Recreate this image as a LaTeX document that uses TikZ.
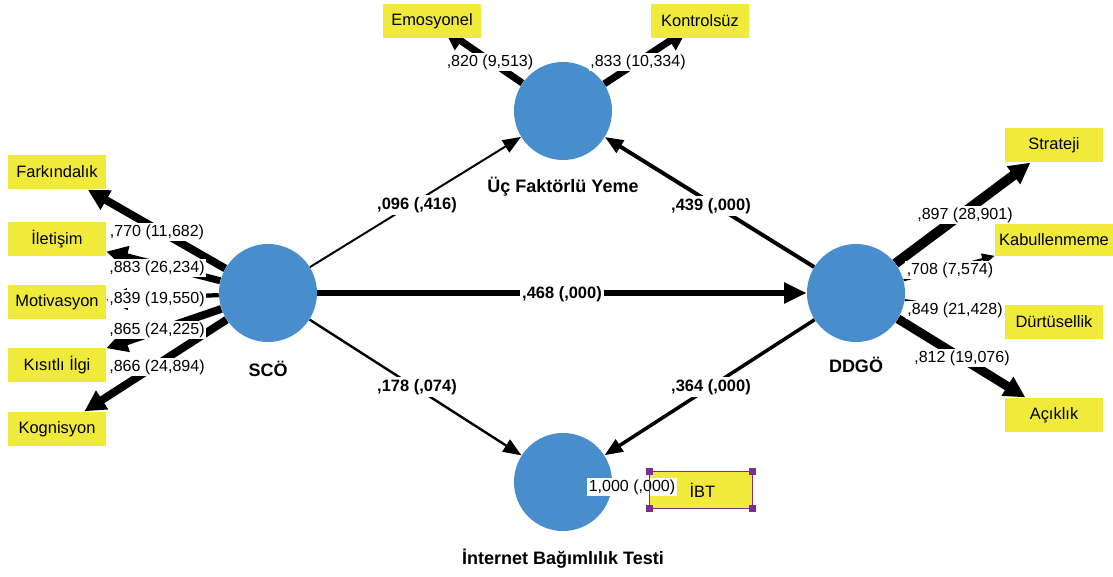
\documentclass[tikz,border=0pt]{standalone}
\usepackage{fontspec}
\setmainfont{Liberation Sans}
\usetikzlibrary{arrows.meta}
\definecolor{latblue}{RGB}{72,142,204}
\definecolor{indy}{RGB}{240,234,58}
\definecolor{handle}{RGB}{125,45,140}
\pgfdeclarelayer{bg}
\pgfsetlayers{bg,main}
\begin{document}
\begin{tikzpicture}[x=0.025cm,y=-0.025cm,
  lat/.style={circle,fill=latblue,minimum size=2.45cm,inner sep=0pt},
  indbox/.style={fill=indy,minimum width=2.45cm,minimum height=0.87cm,inner sep=1pt,font=\fontsize{11.7}{14}\selectfont},
  latlab/.style={font=\bfseries\fontsize{12.8}{15}\selectfont},
  loadlab/.style={fill=white,inner sep=1.2pt,font=\fontsize{11.4}{13}\selectfont},
  coeflab/.style={fill=white,inner sep=1.5pt,font=\bfseries\fontsize{11.7}{14}\selectfont},
  thickarr/.style={line width=#1,-{Triangle[length=15pt,width=15pt]}},
  thinarr/.style={line width=#1,-{Triangle[length=9pt,width=8pt]}},
  patharr/.style={line width=#1,-{Triangle[length=13pt,width=10pt]}},
  handlesq/.style={fill=handle,minimum size=0.18cm,inner sep=0pt}
]
\useasboundingbox (0,0) rectangle (1113,577);

% latent variables
\node[lat] (sco) at (268,293) {};
\node[lat] (ufy) at (563,111) {};
\node[lat] (ddgo) at (856,293) {};
\node[lat] (ibt) at (563,482) {};
\node[latlab] (scol) at (268,369) {SCÖ};
\node[latlab] (ufyl) at (563,187) {Üç Faktörlü Yeme};
\node[latlab] (ddgol) at (856,365) {DDGÖ};
\node[latlab] (ibtl) at (563,559) {İnternet Bağımlılık Testi};

% indicators
\node[indbox] (fark) at (57,172) {Farkındalık};
\node[indbox] (ilet) at (57,239) {İletişim};
\node[indbox] (moti) at (57,302) {Motivasyon};
\node[indbox] (kisi) at (57,365) {Kısıtlı İlgi};
\node[indbox] (kogn) at (57,429) {Kognisyon};
\node[indbox] (emo) at (432,21) {Emosyonel};
\node[indbox] (kont) at (700,21) {Kontrolsüz};
\node[indbox] (strat) at (1054,145) {Strateji};
\node[indbox,minimum width=2.95cm,minimum height=0.8cm] (kabul) at (1054,240) {Kabullenmeme};
\node[indbox] (durt) at (1054,322) {Dürtüsellik};
\node[indbox] (acik) at (1054,415) {Açıklık};
\node[indbox,minimum width=2.55cm,minimum height=0.9cm] (ibtb) at (701,490) {\hspace{2pt}İBT};

% connectors
\begin{pgfonlayer}{bg}
\draw[thickarr=5.6pt] (sco) -- (fark);
\draw[thickarr=5pt] (sco) -- (ilet);
\draw[thickarr=3pt] (sco) -- (moti);
\draw[thickarr=5.6pt] (sco) -- (kisi);
\draw[thickarr=5.6pt] (sco) -- (kogn);
\draw[thickarr=5pt,shorten >=-12pt] (ufy) -- (emo);
\draw[thickarr=5pt,shorten >=-12pt] (ufy) -- (kont);
\draw[thickarr=7pt] (ddgo) -- (strat);
\draw[thinarr=1.5pt] (ddgo) -- (kabul);
\draw[thinarr=1.5pt] (ddgo) -- (durt);
\draw[thickarr=6.5pt] (ddgo) -- (acik);
\draw[patharr=1.4pt] (sco) -- (ufy);
\draw[patharr=2.8pt] (ddgo) -- (ufy);
\draw[patharr=4.2pt,-{Triangle[length=16pt,width=14pt]}] (sco) -- (ddgo);
\draw[patharr=1.7pt] (sco) -- (ibt);
\draw[patharr=2.5pt] (ddgo) -- (ibt);
\end{pgfonlayer}

% outer loadings
\node[loadlab] (l1) at (157,232) {,770 (11,682)};
\node[loadlab] (l2) at (157,268) {,883 (26,234)};
\node[loadlab] (l3) at (157,299) {,839 (19,550)};
\node[loadlab] (l4) at (157,330) {,865 (24,225)};
\node[loadlab] (l5) at (157,367) {,866 (24,894)};
\node[loadlab] (l6) at (490,62) {,820 (9,513)};
\node[loadlab] (l7) at (638,62) {,833 (10,334)};
\node[loadlab] (l8) at (965,215) {,897 (28,901)};
\node[loadlab] (l9) at (950,270) {,708 (7,574)};
\node[loadlab] (l10) at (955,310) {,849 (21,428)};
\node[loadlab] (l11) at (962,358) {,812 (19,076)};
\node[loadlab] (l12) at (632,487) {1,000 (,000)};

% path coefficients
\node[coeflab] (c1) at (417,205) {,096 (,416)};
\node[coeflab] (c2) at (711,206) {,439 (,000)};
\node[coeflab] (c3) at (562,294) {,468 (,000)};
\node[coeflab] (c4) at (417,387) {,178 (,074)};
\node[coeflab] (c5) at (711,387) {,364 (,000)};

% selection frame of IBT
\draw[handle,line width=0.9pt] (ibtb.north west) rectangle (ibtb.south east);
\node[handlesq] (h1) at (ibtb.north west) {};
\node[handlesq] (h2) at (ibtb.north east) {};
\node[handlesq] (h3) at (ibtb.south west) {};
\node[handlesq] (h4) at (ibtb.south east) {};
\end{tikzpicture}
\end{document}
